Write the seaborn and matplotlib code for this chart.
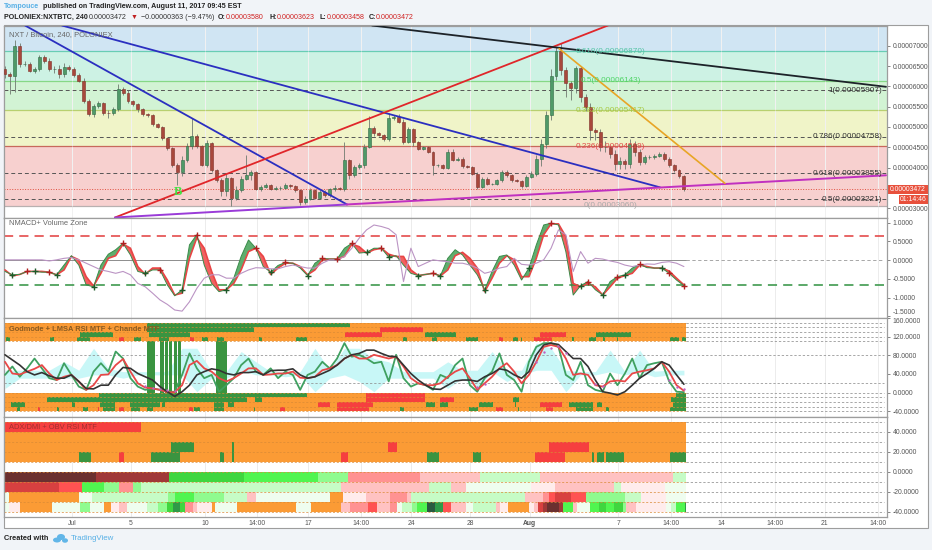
import numpy as np
import matplotlib
matplotlib.use("Agg")
import matplotlib.pyplot as plt
from matplotlib.patches import Ellipse, Rectangle
import seaborn as sns

# --- values ---
# x unit: days since Jul 1. prices in 1e-8 BTC

price_close = [6304, 6263, 7007, 6552, 6552, 6387, 6428, 6717, 6635, 6428, 6428, 6304, 6469, 6428, 6279, 6138,
               5642, 5311, 5518, 5584, 5353, 5336, 5452, 5932, 5849, 5642, 5560, 5435, 5311, 5287, 5063, 4997,
               4733, 4484, 4071, 3881, 4195, 4526, 4774, 4526, 4071, 4608, 3947, 3699, 3409, 3740, 3244, 3451,
               3724, 3807, 3890, 3476, 3518, 3559, 3476, 3493, 3493, 3559, 3534, 3435, 3146, 3228, 3435, 3253,
               3394, 3311, 3476, 3501, 3476, 4179, 3807, 4014, 4055, 4510, 4965, 4841, 4800, 4692, 5213, 5254,
               5130, 4634, 4940, 4634, 4469, 4494, 4386, 4055, 4055, 3997, 4386, 4179, 4220, 4030, 4014, 3848,
               3517, 3724, 3600, 3600, 3683, 3889, 3807, 3683, 3666, 3542, 3765, 3848, 4220, 4592, 5295, 6246,
               6867, 6412, 6081, 5957, 6453, 5750, 5502, 4923, 4882, 4510, 4510, 4344, 4096, 4162, 4080, 4592,
               4386, 4137, 4261, 4261, 4286, 4344, 4220, 4055, 3931, 3780, 3472]
wick_up = [90, 60, 130, 60, 70, 60, 50, 60, 50, 70, 80, 90, 120, 60, 40, 50, 60, 40, 50, 60, 40, 60, 30, 120, 60,
           60, 30, 40, 30, 40, 30, 30, 30, 30, 20, 40, 100, 70, 450, 60, 30, 60, 30, 20, 40, 90, 30, 90, 60, 500,
           50, 30, 60, 60, 30, 40, 40, 60, 30, 30, 30, 60, 60, 40, 40, 50, 30, 60, 30, 455, 40, 60, 50, 60, 300,
           50, 40, 30, 120, 40, 60, 60, 60, 40, 30, 30, 30, 30, 30, 30, 80, 60, 50, 40, 30, 30, 30, 40, 40, 30,
           30, 50, 40, 40, 30, 30, 60, 60, 100, 100, 90, 180, 100, 200, 60, 60, 60, 60, 60, 100, 50, 60, 140,
           30, 100, 100, 60, 120, 60, 60, 60, 60, 40, 40, 30, 30, 30, 30, 40]
wick_down = [100, 450, 400, 80, 60, 40, 60, 40, 60, 50, 100, 90, 60, 40, 50, 40, 60, 50, 60, 40, 60, 120, 30, 60,
             50, 40, 40, 60, 40, 50, 30, 30, 50, 40, 60, 300, 90, 50, 60, 40, 40, 60, 60, 60, 120, 100, 200, 40,
             60, 40, 120, 30, 50, 30, 40, 30, 40, 30, 30, 30, 60, 40, 40, 30, 40, 50, 30, 60, 40, 60, 80, 30, 60,
             60, 40, 60, 30, 30, 30, 30, 40, 60, 40, 100, 40, 30, 30, 250, 40, 40, 40, 30, 30, 40, 30, 30, 40, 30,
             30, 30, 30, 30, 30, 40, 30, 40, 30, 30, 60, 180, 100, 120, 90, 130, 330, 300, 120, 130, 120, 250, 200,
             100, 120, 100, 160, 140, 110, 100, 90, 80, 60, 50, 40, 30, 60, 40, 30, 40, 60]

fib_bands = [7503, 6870, 6143, 5417, 4519, 3060]
fib_dashed = [5907, 4758, 3855, 3221]
last_price = 3472
price_ticks = [7000, 6500, 6000, 5500, 5000, 4500, 4000, 3000]

# trend lines: [day, day], [price, price]
line_blue_a = ([-3.18, 18.63], [7503, 3089])
line_blue_b = ([-0.68, 39.84], [7503, 3511])
line_red = ([2.91, 36.31], [2767, 7503])
line_purple_a = ([2.91, 18.63], [2767, 3089])
line_purple_b = ([18.63, 55.15], [3089, 3808])
line_black = ([20.33, 55.15], [7503, 5991])
line_orange = ([33.0, 44.24], [6933, 3610])

nmacd_fast = [-.30, -.39, -.38, -.30, -.30, -.32, -.32, -.39, -.13, .12, -.13, -.66, -.71, -.13, .16, .28, .45, .14,
              -.30, -.35, -.26, -.26, -.66, -.95, -.79, .41, .68, -.13, -.62, -.84, -.79, -.48, .10, .54, .32, -.17,
              -.32, -.14, -.06, -.08, -.21, -.41, -.08, .05, .03, .03, .32, .45, .19, .21, .32, .32, .08, .12, -.13,
              -.35, -.41, -.38, -.35, -.42, .05, .28, .14, -.13, -.39, -.79, -.30, .10, .14, -.13, -.53, -.21, .41,
              .94, .99, .94, .23, -.93, -.68, -.57, -.79, -.93, -.57, -.44, -.39, -.21, -.11, -.20, -.21, -.21, -.35,
              -.53, -.68]
nmacd_slow = [-.26, -.42, -.38, -.30, -.30, -.30, -.32, -.39, -.26, .10, .01, -.44, -.69, -.35, .05, .12, .43, .32,
              -.17, -.38, -.21, -.21, -.53, -.93, -.88, .05, .60, .32, -.30, -.79, -.79, -.62, -.26, .23, .32, .10,
              -.38, -.21, -.08, -.08, -.17, -.39, -.26, .01, .03, .03, .10, .43, .36, .19, .28, .32, .16, .10, .10,
              -.26, -.41, -.38, -.35, -.42, -.26, .12, .21, .05, -.21, -.84, -.48, -.08, .12, .01, -.44, -.44, .05,
              .68, .97, .97, .63, -.62, -.71, -.62, -.71, -.93, -.71, -.48, -.41, -.35, -.13, -.17, -.21, -.21, -.29,
              -.48, -.66]
nmacd_volume = [.01, .01, .01, .01, .01, .01, -.02, .01, .05, .07, .01, -.08, -.17, -.26, -.30, -.35, -.30, -.39,
                -.62, -.71, -.88, -1.06, -1.18, -1.33, -1.36, -1.11, -.75, -.48, -.39, -.39, -.48, -.48, -.35, -.26,
                -.20, -.21, -.23, -.23, -.17, -.13, -.17, -.21, -.21, -.08, .01, .01, .10, .32, .59, .81, .94, .90,
                .84, .68, -.57, .32, -.17, -.08, .01, -.02, -.04, -.08, -.08, -.13, -.21, -.35, -.30, -.21, -.17,
                .05, -.11, -.13, -.08, .01, .32, .81, .68, -.30, .23, -.08, .05, .03, -.02, -.06, -.13, -.17, -.13,
                -.10, -.11, -.06, -.04, -.08, -.17]
nmacd_buy = [1, 4, 7, 12, 19, 24, 30, 36, 41, 49, 52, 56, 59, 65, 71, 78, 81, 84, 89]
nmacd_sell = [3, 6, 16, 21, 26, 34, 38, 43, 45, 47, 51, 58, 74, 79, 83, 86, 90, 92]
nmacd_levels = [.65, -.65]

rsi_fast = [38, 56, 34, 52, 73, 52, 31, 27, 63, 38, 13, 6, 45, 63, 45, 88, 73, 31, 13, 6, 9, 6, 2, 2, 38, 84, 52, 31,
            38, 2, 16, 31, 59, 73, 45, 38, 52, 31, 45, 38, 6, 38, 45, 66, 52, 73, 106, 77, 81, 73, 63, 66, 24, 81,
            31, 13, 20, 16, 6, 38, 31, 59, 73, 16, 2, 31, 45, 84, 38, 27, 2, 66, 98, 106, 106, 98, 38, 27, 66, 16,
            6, 2, 41, 16, 41, 73, 31, 59, 63, 66, 24, 2, 1]
rsi_mid = [66, 41, 39, 45, 51, 59, 41, 27, 34, 38, 24, 6, 16, 38, 39, 59, 72, 45, 20, 11, 9, 6, 1, 1, 16, 59, 68, 52,
           45, 31, 24, 31, 41, 52, 52, 38, 39, 41, 41, 45, 32, 31, 34, 48, 52, 59, 73, 81, 73, 73, 81, 77, 73, 77,
           56, 31, 20, 16, 16, 20, 34, 45, 52, 31, 6, 20, 34, 52, 63, 45, 20, 38, 66, 98, 102, 98, 73, 38, 41, 38,
           16, 13, 24, 26, 24, 41, 45, 48, 52, 66, 45, 16, 4]
rsi_slow = [81, 70, 59, 45, 38, 43, 36, 31, 31, 38, 24, 9, 8, 16, 16, 38, 54, 52, 41, 34, 27, 13, 2, -8, 2, 16, 38,
            45, 51, 48, 41, 38, 43, 43, 45, 38, 47, 48, 48, 51, 38, 31, 34, 41, 48, 59, 73, 81, 84, 91, 91, 84, 78,
            77, 59, 41, 27, 16, 8, 7, 16, 25, 27, 27, 24, 34, 41, 51, 48, 38, 31, 45, 81, 102, 106, 103, 88, 73, 73,
            56, 27, 2, -1, -5, 2, 16, 31, 41, 52, 66, 59, 38, 18]
rsi_dot_idx = [19, 20, 21, 22, 23, 64, 65, 72, 73, 74, 75, 76, 80, 81, 90, 91, 92]
rsi_dot_val = [14, 11, 8, 5, 3, 12, 18, 66, 88, 96, 100, 85, 18, 15, 28, 12, 7]
cloud_top = [48, 48, 48, 48, 66, 48, 95, 52, 45, 45, 45, 45, 95, 95, 45, 45, 88, 66, 45, 45, 45, 95, 48, 95, 95, 73,
             66, 45, 45, 45, 66, 48, 48, 88, 48, 48, 106, 95, 48, 45, 45, 91, 45, 91, 46, 48, 48]
cloud_low = [9, 31, 31, 31, 31, 31, 38, 38, 31, 38, 38, 38, 38, 2, 31, 31, 48, 38, 38, 34, 38, 2, 31, 38, 24, 2, 31,
             31, 31, 31, 9, 31, 9, 45, 24, 38, 48, 48, 2, 38, 38, 45, 38, 45, 34, 38, 38]

# strips: green / red runs per row, (start day, end day)
top_green = [[(5.06, 18.85)],
             [(5.06, 12.3)],
             [(0.54, 2.8), (5.2, 8.0), (23.9, 26.0), (35.5, 37.9)],
             [(-4.5, -4.2), (-1.5, -1.2), (0.36, 1.2), (4.2, 4.7), (5.9, 6.6), (8.8, 9.2), (9.8, 10.3), (12.7, 12.9),
              (15.2, 15.9), (22.4, 22.7), (24.4, 24.7), (26.7, 27.5), (29.9, 30.2), (30.4, 30.5), (33.9, 34.0),
              (35.05, 35.5), (35.95, 36.1), (36.9, 37.0), (40.5, 41.1), (41.3, 41.6)]]
top_red = [[], [(20.9, 23.8)], [(18.5, 21.0), (31.7, 33.5)], [(3.2, 3.5), (8.0, 8.3), (28.9, 29.2), (31.3, 32.5)]]
low_green = [[(1.83, 15.9), (40.9, 41.6)],
             [(-1.67, 11.85), (12.4, 12.9), (29.9, 30.3), (40.6, 41.6)],
             [(-4.16, -3.2), (0.0, 0.2), (1.9, 2.9), (3.9, 5.96), (6.1, 6.3), (9.6, 10.3), (10.6, 11.0), (24.0, 24.6),
              (24.9, 25.5), (27.6, 28.5), (30.0, 30.1), (33.7, 35.3), (35.55, 35.9), (40.7, 41.6)],
             [(-3.75, -3.5), (-1.0, -0.9), (0.72, 1.1), (2.1, 2.9), (4.0, 4.6), (5.06, 5.5), (8.3, 8.7), (9.6, 10.3),
              (12.3, 12.4), (22.2, 22.5), (26.9, 27.5), (30.2, 30.3), (34.15, 35.3), (36.2, 36.4), (40.5, 41.6)]]
low_red = [[(19.9, 23.9)],
           [(19.9, 23.9), (24.9, 25.9)],
           [(16.7, 17.5), (17.95, 20.4), (31.7, 33.2)],
           [(-2.3, -2.2), (1.75, 1.85), (3.2, 3.5), (7.9, 8.2), (14.1, 14.4), (17.95, 20.1), (28.7, 29.2), (32.1, 32.6)]]
green_columns = [(5.1, 5.6), (5.96, 6.2), (6.3, 6.5), (6.55, 6.8), (6.9, 7.1), (7.2, 7.4), (9.77, 10.5)]

adx_green = [[], [], [(6.7, 8.3), (10.85, 11.0)],
             [(0.5, 1.3), (5.35, 7.3), (10.0, 10.3), (10.85, 11.0), (24.05, 24.85), (27.2, 27.7), (35.2, 35.4),
              (35.55, 36.05), (36.2, 37.4), (40.55, 41.6)]]
adx_red = [[(-4.6, 4.65)], [], [(21.4, 22.0), (32.3, 35.05)],
           [(3.2, 3.5), (18.2, 18.7), (31.4, 33.4)]]

heat_a_edges = [-4.6, 1.6, 6.6, 11.65, 16.7, 18.7, 23.6, 27.65, 31.7, 40.7, 41.6]
heat_a_levels = [-7, -6, 5, 4, 3, -3, -2, 2, -2, 2]
heat_b_edges = [-4.6, -0.9, 0.65, 2.15, 3.2, 4.15, 4.65, 18.2, 24.2, 25.7, 26.7, 31.1, 32.75, 36.7, 37.2, 40.2, 41.6]
heat_b_levels = [-5, -4, 4, 3, -3, 3, 2, -2, 2, -2, 1, -1, -2, 2, -1, 1]
heat_c_edges = [-4.6, -4.3, 0.5, 1.33, 6.5, 7.0, 8.3, 9.6, 10.3, 11.85, 12.5, 12.85, 17.5, 18.35, 19.9, 21.55, 22.7,
                23.0, 30.7, 31.9, 32.35, 32.75, 33.8, 34.8, 37.5, 38.55, 39.2, 40.25, 41.6]
heat_c_levels = [1, 9, 1, 2, 3, 4, 3, 3, 2, -2, 1, 1, 9, -1, -2, -3, -2, 2, -2, -3, -4, -5, -4, 3, 2, -1, -1, 1]
heat_d_edges = [-4.6, -4.3, -3.5, -1.33, .54, 1.2, 2.17, 2.64, 3.18, 3.7, 5.06, 5.85, 6.41, 6.82, 7.3, 7.67, 8.17,
                8.49, 9.48, 9.66, 11.2, 15.2, 16.17, 18.2, 18.83, 20.05, 20.64, 21.54, 22.0, 22.33, 23.05, 23.4,
                24.07, 24.6, 25.15, 25.65, 26.7, 27.2, 28.7, 29.0, 29.54, 30.98, 31.3, 31.55, 31.9, 32.2, 33.0,
                33.24, 33.96, 34.2, 35.1, 35.7, 36.2, 36.74, 37.3, 37.57, 38.2, 40.25, 40.6, 40.9, 41.5, 41.6]
heat_d_levels = [1, -1, 9, 1, 3, 1, 9, -1, -2, 1, 2, 3, 5, 6, 5, -3, -2, -1, 9, 1, 9, 1, 9, -2, -3, -4, -2, -3, 1, 2,
                 3, 4, 7, 6, -4, -2, 1, 2, -2, -1, 9, -1, -2, -5, -6, -7, -6, 4, -2, 1, 4, 5, 4, 5, 3, -2, -1, 1, 2,
                 4, 6]

tick_days = [0, 4, 9, 12.53, 16, 19.58, 23, 27, 31, 37, 40.6, 44, 47.6, 51, 54.6]
tick_names = ["Jul", "5", "10", "14:00", "17", "14:00", "24", "28", "Aug", "7", "14:00", "14", "14:00", "21", "14:00"]

# --- styling ---
W, H = 932, 550
ORANGE = "#fb9b35"
GREEN = "#3a9440"
RED = "#f63f3f"
heat_colors = {9: ORANGE, 1: "#effdef", 2: "#c6fcc6", 3: "#8ffb8f", 4: "#50f550", 5: "#3fd63f", 6: "#2f9a48",
               7: "#2a5a40", -1: "#ffecec", -2: "#ffc2c2", -3: "#ff9292", -4: "#ff5252", -5: "#d84040",
               -6: "#a03838", -7: "#6b3030"}
GRID = "#ececec"
EDGE = "#9d9d9d"
XMIN, XMAX = -4.607, 55.22
LAST_BAR = 41.6

sns.set_theme(style="white")
plt.rcParams["font.family"] = ["Liberation Sans", "DejaVu Sans"]

fig = plt.figure(figsize=(W / 100, H / 100), dpi=100, facecolor="#f1f4f8")

bg = fig.add_axes([0, 0, 1, 1], zorder=-1)
bg.set_xlim(0, W)
bg.set_ylim(H, 0)
bg.axis("off")
bg.add_patch(Rectangle((4, 25), 924, 503, fc="white", ec=EDGE, lw=0.8))


def panel(top, bottom, ylim, ticks, labels):
    ax = fig.add_axes([4 / W, 1 - bottom / H, (887 - 4) / W, (bottom - top) / H], facecolor="white")
    ax.set_xlim(XMIN, XMAX)
    ax.set_ylim(*ylim)
    ax.set_xticks(tick_days)
    ax.set_xticklabels([])
    ax.yaxis.tick_right()
    ax.set_yticks(ticks)
    ax.set_yticklabels(labels)
    ax.tick_params(axis="y", length=2, width=0.5, colors="#555555", labelsize=4.9, pad=2)
    ax.tick_params(axis="x", length=0)
    ax.grid(True, axis="x", color=GRID, lw=0.7)
    ax.set_axisbelow(True)
    for s in ax.spines.values():
        s.set_color(EDGE)
        s.set_linewidth(0.9)
    return ax


def line(ax, xs, ys, color, lw=1.2, **kw):
    sns.lineplot(x=xs, y=ys, ax=ax, color=color, lw=lw, estimator=None, sort=False, legend=False, **kw)


def half_days(series):
    return -4.54 + 0.5 * np.arange(len(series))


def strip_rows(ax, rows, tops, color, height):
    for row, t in zip(rows, tops):
        spans = [(a, b - a) for a, b in row]
        ax.broken_barh(spans, (t - height, height), facecolors=color, lw=0, zorder=2)


def strip_rules(ax, levels):
    # dashes stay faint over the orange rows, grey past the last bar
    for lvl in levels:
        ax.plot([XMIN, LAST_BAR], [lvl, lvl], color="#d98a36", lw=0.5, ls=(0, (3, 2.5)), zorder=2.5)
        ax.plot([LAST_BAR, 55.0], [lvl, lvl], color="#8f8f8f", lw=0.55, ls=(0, (3, 2.5)), zorder=2.5)


# --- main price panel ---
ax = panel(25.5, 217.5, (2767, 7503), price_ticks, [f"0.0000{p}" for p in price_ticks])
band_colors = ["#d0e5f3", "#cdf2e4", "#d2f3d4", "#f0f4c8", "#f7d0cf"]
rule_colors = ["#69cdb4", "#86d886", "#b8d070", "#c8685c", "#b8b0b0"]
for i, col in enumerate(band_colors):
    ax.axhspan(fib_bands[i + 1], fib_bands[i], color=col, lw=0, zorder=0)
for p, col in zip(fib_bands[1:], rule_colors):
    ax.axhline(p, color=col, lw=0.9, zorder=1)
for p in fib_dashed:
    ax.axhline(p, color="#555555", lw=0.7, ls=(0, (4, 3)), zorder=1)
ax.axhline(last_price, color="#e05040", lw=0.7, ls=":", zorder=1)
for d in tick_days:
    ax.axvline(d, color="white", lw=0.5, alpha=0.45, zorder=1)

closes = np.array(price_close, dtype=float)
opens = np.r_[closes[0] + 120, closes[:-1]]
days = -4.54 + np.arange(len(closes)) / 3
ups = np.array(wick_up[:len(closes)])
downs = np.array(wick_down[:len(closes)])
rising = closes >= opens
ax.vlines(days, np.minimum(opens, closes) - downs, np.maximum(opens, closes) + ups, color="#6f7a70", lw=0.6, zorder=3)
ax.bar(days[rising], (closes - opens)[rising], bottom=opens[rising], width=0.2, color="#4f9a68", edgecolor="#2f6a45",
       lw=0.4, zorder=4)
ax.bar(days[~rising], (closes - opens)[~rising], bottom=opens[~rising], width=0.2, color="#a8483c", edgecolor="#7f2f28",
       lw=0.4, zorder=4)

for (xs, ys), col, lw in [(line_blue_a, "#2b2fc0", 1.3), (line_blue_b, "#2b2fc0", 1.3), (line_red, "#e0262a", 1.3),
                          (line_purple_a, "#9a3bd8", 1.4), (line_purple_b, "#c030c0", 1.4),
                          (line_black, "#1c2228", 1.3), (line_orange, "#e8a526", 1.2)]:
    line(ax, xs, ys, col, lw, zorder=5)

for txt, price, col in [("0.618(0.00006870)", 6870, "#55c4a5"), ("0.5(0.00006143)", 6143, "#4fd465"),
                        ("0.382(0.00005417)", 5417, "#a8c840"), ("0.236(0.00004519)", 4519, "#e04848"),
                        ("0(0.00003060)", 3060, "#a8a8a8")]:
    ax.text(36.5, price, txt, color=col, fontsize=5.9, ha="center", va="center", zorder=6)
for txt, price in [("1(0.00005907)", 5907), ("0.786(0.00004758)", 4758), ("0.618(0.00003855)", 3855),
                   ("0.5(0.00003221)", 3221)]:
    ax.text(54.9, price, txt, color="#333333", fontsize=5.9, ha="right", va="center", zorder=6)
ax.text(7.18, 3387, "B", color="#45e045", fontsize=9, fontweight="bold", ha="center", va="center",
        family="Liberation Serif", zorder=6)
ax.text(-4.27, 7280, "NXT / Bitcoin, 240, POLONIEX", color="#666666", fontsize=5.4, va="center", zorder=6)

# --- NMACD panel ---
ax = panel(217.5, 317.5, (-1.53, 1.14), [1, .5, 0, -.5, -1, -1.5],
           ["1.0000", "0.5000", "0.0000", "-0.5000", "-1.0000", "-1.5000"])
ax.get_yticklabels()[-1].set_va("bottom")
t = half_days(nmacd_fast)
fast = np.array(nmacd_fast)
slow = np.array(nmacd_slow[:len(fast)])
ax.fill_between(t, fast, slow, where=fast >= slow, interpolate=True, color="#5fae6e", lw=0, zorder=2)
ax.fill_between(t, fast, slow, where=fast < slow, interpolate=True, color="#f26060", lw=0, zorder=2)
ax.plot([XMIN, LAST_BAR], [0, 0], color="#8d8d8d", lw=0.7, zorder=1)
ax.plot([LAST_BAR, 55.0], [0, 0], color="#999999", lw=0.6, ls=(0, (4, 3)), zorder=1)
line(ax, t, slow, "#e84545", 1.2, zorder=3)
line(ax, t, fast, "#3a8c4a", 0.7, zorder=3)
line(ax, half_days(nmacd_volume), nmacd_volume, "#bb94c4", 0.8, zorder=3)
ax.plot([XMIN, 55.0], [nmacd_levels[0]] * 2, color="#e23c3c", lw=1.1, ls=(0, (6, 4)), zorder=2)
ax.plot([XMIN, 55.0], [nmacd_levels[1]] * 2, color="#2f9140", lw=1.1, ls=(0, (6, 4)), zorder=2)
sns.scatterplot(x=t[nmacd_buy], y=fast[nmacd_buy], ax=ax, marker="+", color="#1f5a2a", s=22, linewidth=1.0, zorder=5,
                legend=False)
sns.scatterplot(x=t[nmacd_sell], y=fast[nmacd_sell], ax=ax, marker="+", color="#b02020", s=22, linewidth=1.0, zorder=5,
                legend=False)
ax.text(-4.27, 0.99, "NMACD+ Volume Zone", color="#666666", fontsize=5.4, va="center", zorder=6)

# --- Godmode panel ---
ax = panel(317.5, 416.5, (-51, 160.8), [160, 120, 80, 40, 0, -40],
           ["160.0000", "120.0000", "80.0000", "40.0000", "0.0000", "-40.0000"])
ax.get_yticklabels()[0].set_va("top")
ax.axhspan(110, 150, xmax=(LAST_BAR - XMIN) / (XMAX - XMIN), color=ORANGE, lw=0, zorder=1)
ax.axhspan(-40, 0, xmax=(LAST_BAR - XMIN) / (XMAX - XMIN), color=ORANGE, lw=0, zorder=1)
strip_rows(ax, top_green, [150, 140, 130, 120], GREEN, 10)
strip_rows(ax, top_red, [150, 140, 130, 120], RED, 10)
strip_rows(ax, low_green, [0, -10, -20, -30], GREEN, 10)
strip_rows(ax, low_red, [0, -10, -20, -30], RED, 10)
ax.broken_barh([(a, b - a) for a, b in green_columns], (0, 110), facecolors=GREEN, lw=0, zorder=2)
cloud_t = -4.54 + np.arange(len(cloud_top))
ax.fill_between(cloud_t, cloud_low, cloud_top, color="#c8f7f7", lw=0, zorder=1.5)
strip_rules(ax, [150, 140, 130, 120, 110, 0, -10, -20, -30, -40])
for lvl in [80, 20]:
    ax.plot([XMIN, 55.0], [lvl, lvl], color="#8f8f8f", lw=0.55, ls=(0, (3, 2.5)), zorder=1.8)
line(ax, half_days(rsi_fast), rsi_fast, "#3fa060", 1.3, zorder=3)
line(ax, half_days(rsi_mid), rsi_mid, "#e84848", 1.3, zorder=3.2)
line(ax, half_days(rsi_slow), rsi_slow, "#333333", 1.2, zorder=3.4)
sns.scatterplot(x=half_days(rsi_fast)[rsi_dot_idx], y=rsi_dot_val, ax=ax, color="#c060c0", s=3, lw=0, zorder=3.5,
                legend=False)
ax.text(-4.27, 135, "Godmode + LMSA RSI MTF + Chande MTF", color="#8a5a20", fontsize=5.4, fontweight="bold",
        va="center", zorder=6)

# --- ADX / heat panel ---
ax = panel(416.5, 517, (-45.2, 55), [40, 20, 0, -20, -40], ["40.0000", "20.0000", "0.0000", "-20.0000", "-40.0000"])
ax.axhspan(10, 50, xmax=(LAST_BAR - XMIN) / (XMAX - XMIN), color=ORANGE, lw=0, zorder=1)
strip_rows(ax, adx_green, [50, 40, 30, 20], GREEN, 10)
strip_rows(ax, adx_red, [50, 40, 30, 20], RED, 10)
for edges, levels, top in [(heat_a_edges, heat_a_levels, 0), (heat_b_edges, heat_b_levels, -10),
                           (heat_c_edges, heat_c_levels, -20), (heat_d_edges, heat_d_levels, -30)]:
    for a, b, lev in zip(edges[:-1], edges[1:], levels):
        ax.broken_barh([(a, b - a)], (top - 10, 10), facecolors=heat_colors[lev], lw=0, zorder=2)
strip_rules(ax, [50, 40, 30, 20, 10, 0, -10, -20, -30, -40])
ax.text(-4.27, 44.5, "ADX/DMI + OBV RSI MTF", color="#a03030", fontsize=5.4, va="center", zorder=6)
ax.set_xticklabels(tick_names)
ax.tick_params(axis="x", labelsize=4.9, colors="#555555", pad=2.5)
for lab in ax.get_xticklabels():
    if lab.get_text() == "Aug":
        lab.set_fontweight("bold")

# --- header, price tags, footer ---
def head(x, y, s, color="#222222", weight="bold", size=5.15):
    bg.text(x, y, s, color=color, fontweight=weight, fontsize=size, va="center")


head(4, 7, "Tompouce", "#57b0e6")
head(43, 7, "published on TradingView.com, August 11, 2017 09:45 EST")
head(4, 17.5, "POLONIEX:NXTBTC, 240")
head(89, 17.5, "0.00003472", "#333333", "normal")
head(130.5, 17.5, "▼", "#c02020", "normal", 5)
head(141, 17.5, "−0.00000363 (−9.47%)", "#333333", "normal")
for lx, name, vx, val in [(218, "O:", 226, "0.00003580"), (269, "H:", 277, "0.00003623"),
                          (319, "L:", 327, "0.00003458"), (369, "C:", 376, "0.00003472")]:
    head(lx, 17.5, name)
    head(vx, 17.5, val, "#d02020", "normal")

bg.add_patch(Rectangle((888, 185), 40, 9, fc="#e8503c", lw=0))
bg.add_patch(Rectangle((899, 195), 29, 9, fc="#e8503c", lw=0))
bg.text(907.5, 189.5, "0.00003472", color="white", fontsize=4.9, ha="center", va="center")
bg.text(913.5, 199.5, "01:14:46", color="white", fontsize=4.9, ha="center", va="center")

head(4, 539, "Created with", "#222222", "bold", 5.3)
for cx, cy, rx, ry in [(57, 540, 8, 5), (61, 537, 8, 6), (65, 540.5, 6, 4.5)]:
    bg.add_patch(Ellipse((cx, cy), rx, ry, fc="#62b6e8", lw=0))
head(71, 539, "TradingView", "#57b0e6", "normal", 5.7)

fig.savefig("out.png", dpi=100, facecolor=fig.get_facecolor())
